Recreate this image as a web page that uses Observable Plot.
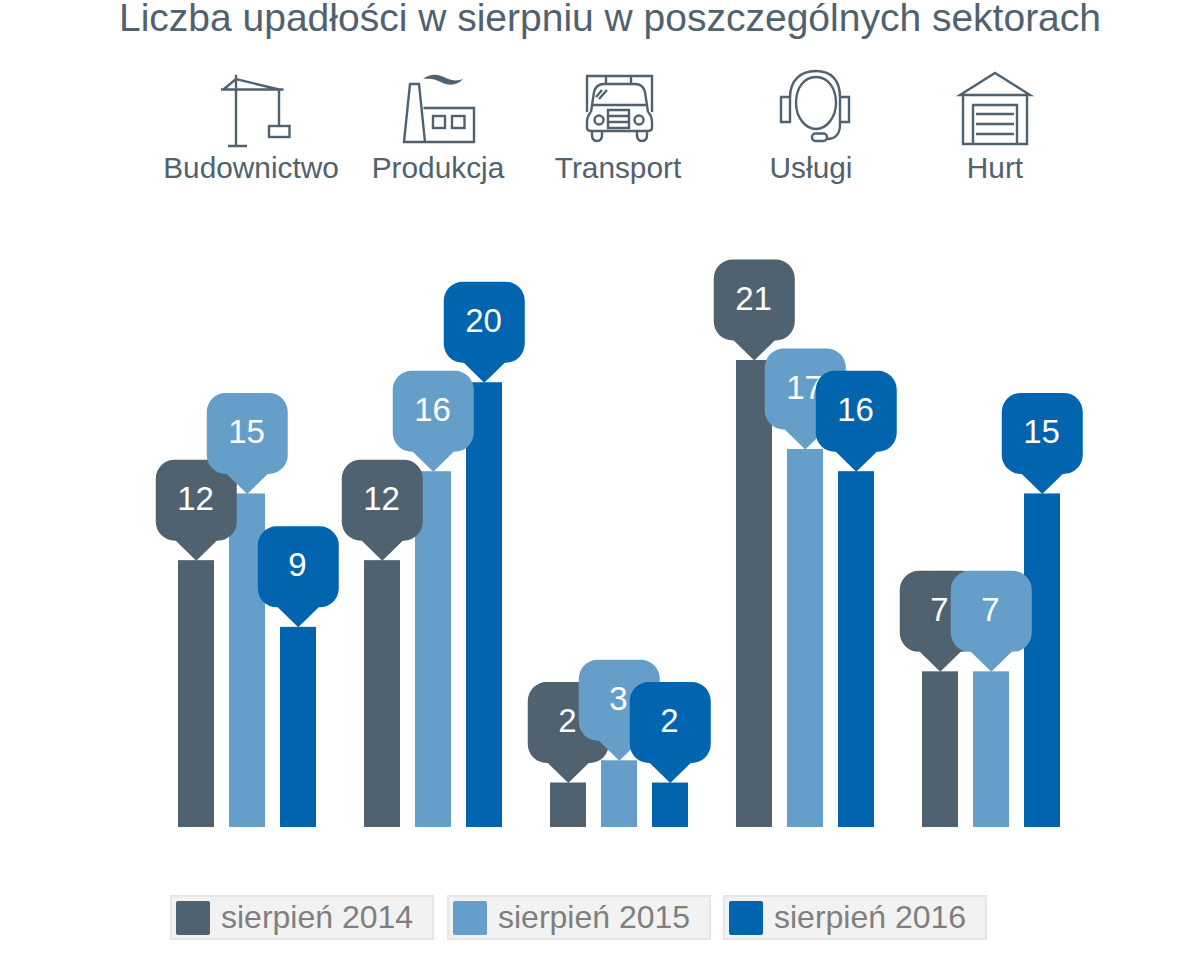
<!DOCTYPE html>
<html lang="pl">
<head>
<meta charset="utf-8">
<script src="https://cdn.jsdelivr.net/npm/d3@7"></script>
<script src="https://cdn.jsdelivr.net/npm/@observablehq/plot@0.6"></script>
<style>
html,body{margin:0;padding:0;background:#fff;font-family:"Liberation Sans",Arial,sans-serif}
#page{position:relative;width:1200px;height:960px;overflow:hidden}
#title{position:absolute;left:20px;top:0;width:1180px;text-align:center;font-size:39px;line-height:36px;color:#50616f;white-space:nowrap}
#icons{position:absolute;left:0;top:0}
.cat{position:absolute;top:151px;width:300px;text-align:center;font-size:29.8px;line-height:34px;color:#50616f}
#chart{position:absolute;left:0;top:230px}
#legend{position:absolute;left:0;top:0}
.lg{position:absolute;top:895px;height:41px;width:260px;background:#f2f2f2;border:2px solid #e6e6e6;color:#7f7f7f;font-size:32px;line-height:41px}
.lg i{position:absolute;left:4px;top:4px;width:34px;height:34px;border-radius:2px}
.lg span{position:absolute;left:49px;top:0;white-space:nowrap}
</style>
</head>
<body>
<div id="page">
<div id="title">Liczba upadłości w sierpniu w poszczególnych sektorach</div>
<svg id="icons" width="1200" height="150" fill="none" stroke="#50616f" stroke-width="2.4">
  <!-- crane -->
  <path d="M236 75V146M228 146H247M221 89.5H283.5M224 89L236 79L279 89.5M279 89.5V126"/>
  <rect x="269" y="126" width="20.5" height="11"/>
  <!-- factory -->
  <path d="M404 142L410 84H419L425 142ZM404 142H474V108H423.5"/>
  <rect x="433" y="116" width="12" height="12"/><rect x="452" y="116" width="12.5" height="12"/>
  <path fill="#50616f" stroke="none" d="M423 79C432 72 440 75 446 78C452 81 458 81 463 79C458 85 450 86 443 83C436 79 430 78 423 79Z"/>
  <!-- truck -->
  <path d="M587 112V76H652V112M606 76V84M631 76V84"/>
  <path d="M591 112L594 92Q596 84 604 84H635Q643 84 645 92L648 112M593 105H646M596 97L602 90M599 99L607 90"/>
  <path d="M591 112Q587 116 587 122V128Q587 131 592 131H647Q652 131 652 128V122Q652 116 648 112M592 131V135Q592 141 597 141Q602 141 602 135V131M637 131V135Q637 141 642 141Q647 141 647 135V131"/>
  <circle cx="599" cy="120" r="4.5"/><circle cx="639" cy="120" r="4.5"/>
  <path d="M608 110H629V128H608ZM608 116H629M608 122H629"/>
  <!-- headset -->
  <path d="M796 103C796 88 804 77 816 77C828 77 836 88 836 103C836 118 826 129 816 129C806 129 796 118 796 103Z"/>
  <path d="M790 97C790 80 801 71 816 71C831 71 840 80 840 97V125C840 134 835 139 827 139"/>
  <path d="M790 97V122H781V97ZM840 97H849V122H840"/>
  <rect x="812" y="133.500" width="15" height="7.500" rx="3.500"/>
  <!-- garage -->
  <path d="M960 95L995 73L1030 95ZM963 95V144H1027V95M973 144V105H1017V144M976 114H1014M976 124H1014M976 134H1014"/>
</svg>
<div class="cat" style="left:101px">Budownictwo</div>
<div class="cat" style="left:288px">Produkcja</div>
<div class="cat" style="left:468px">Transport</div>
<div class="cat" style="left:661px">Usługi</div>
<div class="cat" style="left:845px">Hurt</div>
<div id="chart"></div>
<div id="legend"></div>
</div>
<script>
const categories = ["Budownictwo", "Produkcja", "Transport", "Usługi", "Hurt"];
const seriesNames = ["sierpień 2014", "sierpień 2015", "sierpień 2016"];
const colors = ["#506170", "#659fc9", "#0064ae"];
const values2014 = [12, 12, 2, 21, 7];
const values2015 = [15, 16, 3, 17, 7];
const values2016 = [9, 20, 2, 16, 15];
const allValues = [values2014, values2015, values2016];

const rows = seriesNames.flatMap((s, i) =>
  categories.map((c, j) => ({category: c, series: s, value: allValues[i][j]})));

// Callout with its tip on the anchor point (the top of a bar)
const callout = {
  draw(ctx) {
    const w = 40.5, top = -101, bot = -20, r = 19, n = 20.5;
    ctx.moveTo(0, 0);
    ctx.lineTo(n, bot);
    ctx.arcTo(w, bot, w, top, r);
    ctx.arcTo(w, top, -w, top, r);
    ctx.arcTo(-w, top, -w, bot, r);
    ctx.arcTo(-w, bot, -n, bot, r);
    ctx.lineTo(-n, bot);
    ctx.closePath();
  }
};

const layers = seriesNames.flatMap((s, i) => {
  const d = rows.filter(r => r.series === s);
  return [
    Plot.dot(d, {fx: "category", x: "series", y: "value", symbol: callout, r: 5, dx: -0.25, fill: colors[i], stroke: "none"}),
    Plot.text(d, {fx: "category", x: "series", y: "value", text: d => String(d.value), dx: -1, dy: -61.5,
      fill: "#fff", fontSize: 33, fontFamily: "Liberation Sans"})
  ];
});

const chart = Plot.plot({
  width: 1200, height: 640,
  marginLeft: 154, marginRight: 116, marginTop: 130, marginBottom: 43,
  style: {background: "transparent", overflow: "visible"},
  fx: {domain: categories, axis: null, padding: 0},
  x: {domain: seriesNames, axis: null, paddingInner: 0.3, paddingOuter: 0.463},
  y: {domain: [0, 21], axis: null},
  color: {domain: seriesNames, range: colors},
  marks: [
    Plot.barY(rows, {fx: "category", x: "series", y: "value", fill: "series"}),
    ...layers
  ]
});
document.getElementById("chart").append(chart);

const legend = document.getElementById("legend");
const lefts = [170, 447, 723];
seriesNames.forEach((s, i) => {
  const el = document.createElement("div");
  el.className = "lg";
  el.style.left = lefts[i] + "px";
  el.innerHTML = `<i style="background:${colors[i]}"></i><span>${s}</span>`;
  legend.append(el);
});
</script>
</body>
</html>
